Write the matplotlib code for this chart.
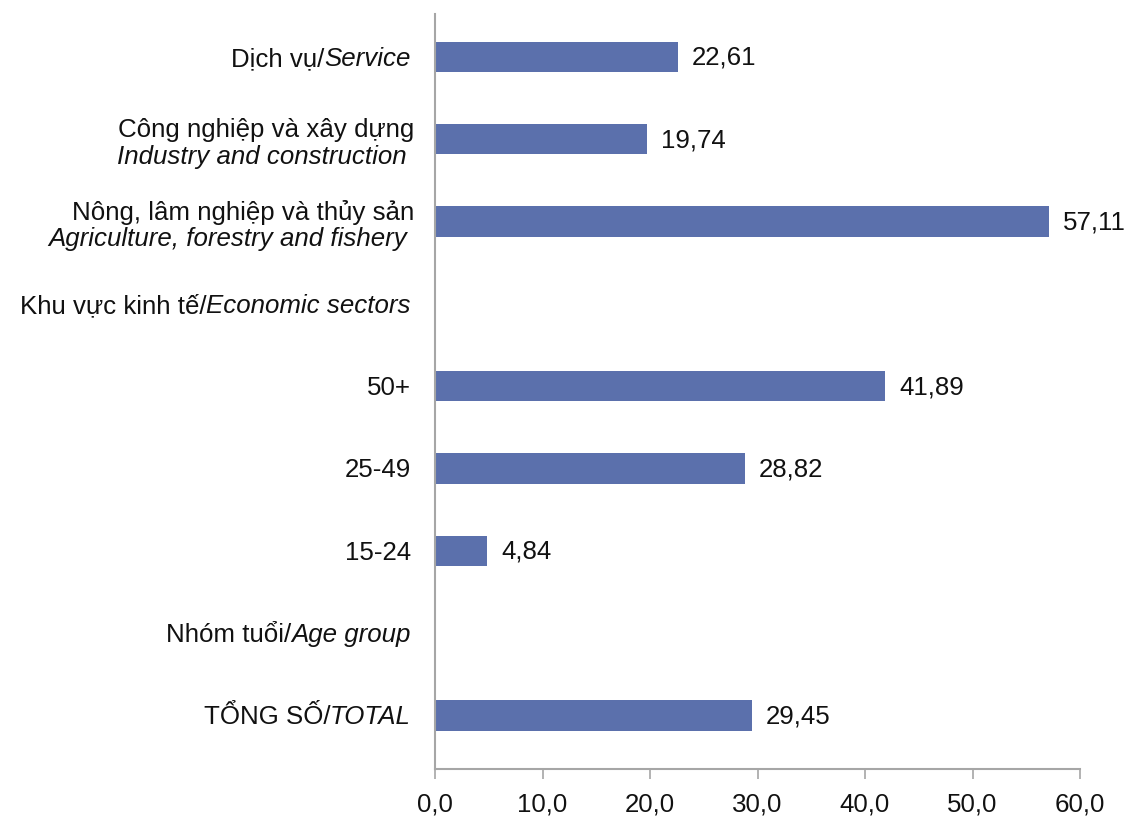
import matplotlib
matplotlib.use("Agg")
import matplotlib.pyplot as plt
from matplotlib.transforms import offset_copy

plt.rcParams["font.family"] = ["Liberation Sans", "DejaVu Sans"]

# Categories from bottom to top: (normal text, italic text, two_lines)
labels_normal = ["TỔNG SỐ/", "Nhóm tuổi/", "15-24", "25-49", "50+",
                 "Khu vực kinh tế/", "Nông, lâm nghiệp và thủy sản",
                 "Công nghiệp và xây dựng", "Dịch vụ/"]
labels_italic = ["TOTAL", "Age group", "", "", "",
                 "Economic sectors", "Agriculture, forestry and fishery",
                 "Industry and construction", "Service"]
two_line = [False, False, False, False, False, False, True, True, False]
values = [29.45, None, 4.84, 28.82, 41.89, None, 57.11, 19.74, 22.61]
xticks = [0, 10, 20, 30, 40, 50, 60]
xtick_labels = ["0,0", "10,0", "20,0", "30,0", "40,0", "50,0", "60,0"]

bar_color = "#5B70AC"
axis_color = "#A6A6A6"
text_color = "#111111"
fs = 18.6

fig = plt.figure(figsize=(11.26, 8.2), dpi=100)
ax = fig.add_axes([435 / 1126, 50 / 820, (1080 - 435) / 1126, (805 - 50) / 820])

for i, v in enumerate(values):
    if v is None:
        continue
    ax.barh(i, v, height=0.37, color=bar_color, edgecolor="none")
    ax.annotate(f"{v:.2f}".replace(".", ","), xy=(v, i), xytext=(10, 0),
                textcoords="offset points", ha="left", va="center",
                fontsize=fs, color=text_color)

ax.set_xlim(0, 60)
ax.set_ylim(-0.65, 8.52)
ax.set_xticks(xticks)
ax.set_xticklabels(xtick_labels, fontsize=fs, color=text_color)
ax.set_yticks([])
ax.tick_params(axis="x", direction="out", length=7, width=1.2,
               color=axis_color, pad=9)
for s in ["top", "right"]:
    ax.spines[s].set_visible(False)
ax.spines["left"].set_color(axis_color)
ax.spines["bottom"].set_color(axis_color)
ax.spines["left"].set_linewidth(1.5)
ax.spines["bottom"].set_linewidth(1.5)

renderer = fig.canvas.get_renderer()
ytrans = ax.get_yaxis_transform()
dy = -8  # baseline offset that centres a single line on its bar

for i in range(len(labels_normal)):
    if two_line[i]:
        t1 = offset_copy(ytrans, fig=fig, x=-21, y=10, units="dots")
        t2 = offset_copy(ytrans, fig=fig, x=-28, y=-17, units="dots")
        ax.text(0, i, labels_normal[i], transform=t1, ha="right",
                va="center", fontsize=fs, color=text_color)
        ax.text(0, i, labels_italic[i], transform=t2, ha="right",
                va="center", fontsize=fs, style="italic", color=text_color)
        continue
    base = offset_copy(ytrans, fig=fig, x=-24, y=dy, units="dots")
    if labels_italic[i]:
        it = ax.text(0, i, labels_italic[i], transform=base, ha="right",
                     va="baseline", fontsize=fs, style="italic",
                     color=text_color)
        width = it.get_window_extent(renderer).width
        nt = offset_copy(ytrans, fig=fig, x=-24 - width, y=dy, units="dots")
        ax.text(0, i, labels_normal[i], transform=nt, ha="right",
                va="baseline", fontsize=fs, color=text_color)
    else:
        ax.text(0, i, labels_normal[i], transform=base, ha="right",
                va="baseline", fontsize=fs, color=text_color)

fig.savefig("out.png", dpi=100, facecolor="white")
